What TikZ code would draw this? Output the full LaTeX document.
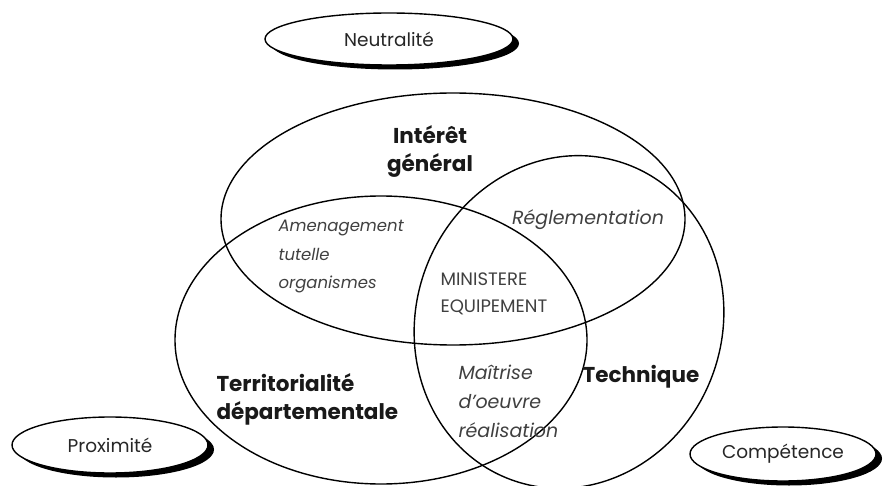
\documentclass[tikz,border=0pt]{standalone}
\usepackage{fontspec}
\setmainfont{Poppins}
\usetikzlibrary{shapes.geometric,shadows}
\tikzset{
  set/.style={ellipse, draw, line width=1.4pt, inner sep=0pt},
  pill/.style={ellipse, draw, line width=1.4pt, fill=white, inner sep=0pt,
    font=\fontsize{18.5}{22}\selectfont, text=black!85,
    general shadow={fill=black, shadow xshift=6pt, shadow yshift=-4.5pt}},
  big/.style={font=\fontsize{21.5}{28}\selectfont\bfseries, text=black!90},
  small/.style={font=\fontsize{16.5}{28.5}\selectfont\itshape, text=black!75, align=left}
}
\begin{document}
\begin{tikzpicture}[x=1pt,y=-1pt]
  \useasboundingbox (0,0) rectangle (885,486);

  \node[set, minimum width=464pt, minimum height=252pt] (eInteret) at (453,219) {};
  \node[set, minimum width=412pt, minimum height=288pt] (eTerr) at (381,340) {};
  \node[set, minimum width=306pt, minimum height=336pt, rotate=-20] (eTech) at (569,322) {};

  \node[big, align=center] (tInteret) at (430,151) {Intérêt\\général};
  \node[big, align=left, anchor=west] (tTerr) at (213,399) {Territorialité\\départementale};
  \node[big] (tTech) at (641,377) {Technique};

  \node[small, anchor=west] (tAmen) at (275,257) {Amenagement\\tutelle\\organismes};
  \node[small, font=\fontsize{19}{24}\selectfont\itshape] (tRegl) at (588,220) {Réglementation};
  \node[small, anchor=west, font=\fontsize{18}{27}\selectfont] (tMin) at (437,294) {MINISTERE\\EQUIPEMENT};
  \node[small, anchor=west, font=\fontsize{19}{29}\selectfont\itshape] (tMait) at (455,401) {Maîtrise\\d'oeuvre\\réalisation};

  \node[pill, minimum width=248pt, minimum height=52pt] (pNeutre) at (389,39) {Neutralité};
  \node[pill, minimum width=196pt, minimum height=56pt] (pProx) at (110,445) {Proximité};
  \node[pill, minimum width=186pt, minimum height=54pt] (pComp) at (783,454) {Compétence};
\end{tikzpicture}
\end{document}
